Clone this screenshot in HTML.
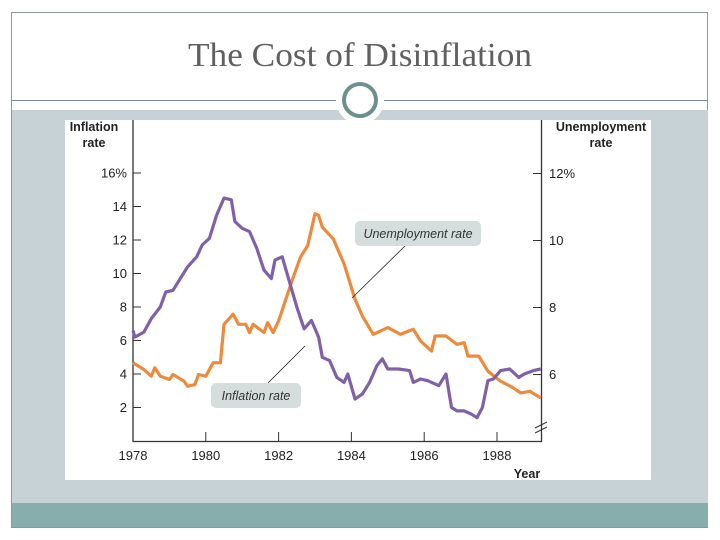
<!DOCTYPE html>
<html><head><meta charset="utf-8"><style>
html,body{margin:0;padding:0;background:#fff;}
svg{display:block;font-family:"Liberation Sans",sans-serif;}
</style></head><body>
<svg width="720" height="540" viewBox="0 0 720 540">
<rect x="11.5" y="12.5" width="696" height="515" fill="#fff" stroke="#8a9a9c"/>
<text x="360" y="66" text-anchor="middle" font-family="Liberation Serif,serif" font-size="34" fill="#606060" textLength="344" lengthAdjust="spacingAndGlyphs">The Cost of Disinflation</text>
<rect x="12" y="110" width="696" height="393" fill="#c7d2d7"/>
<rect x="12" y="503" width="696" height="24" fill="#88adad"/>
<line x1="12" y1="100.5" x2="708" y2="100.5" stroke="#7a8a8c"/>
<circle cx="360" cy="100" r="24" fill="#fff"/>
<circle cx="360" cy="100" r="16" fill="#fff" stroke="#6f8f8f" stroke-width="4"/>
<rect x="65" y="120" width="586" height="360" fill="#fff"/>
<g id="chart"></g>
</svg>
<script>
const ticksX=[1978,1980,1982,1984,1986,1988];
const ticksL=[2,4,6,8,10,12,14,16];
const ticksR=[6,8,10,12];
const infYears=[1978,1978.05,1978.3,1978.5,1978.75,1978.9,1979.1,1979.3,1979.5,1979.75,1979.9,1980.1,1980.3,1980.5,1980.7,1980.8,1981.0,1981.2,1981.4,1981.6,1981.8,1981.9,1982.1,1982.3,1982.5,1982.7,1982.9,1983.1,1983.2,1983.4,1983.6,1983.8,1983.9,1984.1,1984.3,1984.5,1984.7,1984.85,1985.0,1985.3,1985.6,1985.7,1985.9,1986.1,1986.4,1986.6,1986.75,1986.9,1987.1,1987.3,1987.45,1987.6,1987.75,1987.9,1988.1,1988.35,1988.6,1988.75,1989.0,1989.2];
const infVals=[6.6,6.2,6.5,7.3,8,8.9,9,9.7,10.4,11,11.7,12.1,13.5,14.5,14.4,13.1,12.7,12.5,11.5,10.2,9.7,10.8,11,9.5,8,6.7,7.2,6.2,5,4.8,3.8,3.5,4.0,2.5,2.8,3.5,4.5,4.9,4.3,4.3,4.2,3.5,3.7,3.6,3.3,4,2.0,1.8,1.8,1.6,1.4,2.0,3.6,3.7,4.2,4.3,3.8,4.0,4.2,4.3];
const unYears=[1978,1978.3,1978.5,1978.6,1978.75,1979,1979.1,1979.4,1979.5,1979.7,1979.8,1980,1980.2,1980.4,1980.5,1980.75,1980.9,1981.1,1981.2,1981.3,1981.6,1981.7,1981.85,1982,1982.2,1982.4,1982.6,1982.8,1983.0,1983.1,1983.2,1983.5,1983.8,1984.1,1984.3,1984.6,1985.0,1985.35,1985.7,1985.9,1986.2,1986.3,1986.6,1986.9,1987.1,1987.2,1987.5,1987.75,1988.1,1988.45,1988.65,1988.9,1989.2];
const unVals=[6.35,6.15,5.95,6.2,5.95,5.85,6.0,5.8,5.65,5.7,6.0,5.95,6.35,6.35,7.5,7.8,7.5,7.5,7.25,7.5,7.25,7.55,7.25,7.6,8.25,8.9,9.5,9.85,10.8,10.75,10.4,10.05,9.3,8.25,7.75,7.2,7.4,7.2,7.35,7.0,6.7,7.15,7.15,6.9,6.95,6.55,6.55,6.1,5.8,5.6,5.45,5.5,5.3];
const NS='http://www.w3.org/2000/svg';
const g=document.getElementById('chart');
const X=y=>133+(y-1978)*36.4;
const YL=v=>441-v*16.75;
const YR=u=>374.5-(u-6)*33.5;
function mk(t,a,p){const e=document.createElementNS(NS,t);for(const k in a)e.setAttribute(k,a[k]);(p||g).appendChild(e);return e;}
let e;
e=mk('path',{d:'M133,120V441.5H541.5V120',fill:'none',stroke:'#333','stroke-width':1.3});


e=mk('path',{d:'M535,428l12,-6M535,433l12,-6',stroke:'#333','stroke-width':1});


ticksX.forEach(t=>{
 e=mk('line',{x1:X(t),x2:X(t),y1:441,y2:432,stroke:'#333'});
 
 
 e=mk('text',{x:X(t),y:460,'text-anchor':'middle','font-size':13,fill:'#222'});e.textContent=t;
 
 
});
ticksL.forEach(t=>{
 e=mk('line',{x1:133,x2:141,y1:YL(t),y2:YL(t),stroke:'#333'});
 
 
 e=mk('text',{x:127,y:YL(t)+4.5,'text-anchor':'end','font-size':13,fill:'#222'});e.textContent=t===16?'16%':t;
 
 
});
ticksR.forEach(t=>{
 e=mk('line',{x1:533,x2:541,y1:YR(t),y2:YR(t),stroke:'#333'});
 
 
 e=mk('text',{x:549,y:YR(t)+4.5,'font-size':13,fill:'#222'});e.textContent=t===12?'12%':t;
 
 
});
function line(xs,vs,f,c,n){
 const d=xs.map((x,i)=>(i?'L':'M')+X(x).toFixed(1)+','+f(vs[i]).toFixed(1)).join('');
 e=mk('path',{d:d,fill:'none',stroke:c,'stroke-width':3.2,'stroke-linejoin':'round'});
 
 
}
line(unYears,unVals,YR,'#ee8a3c','unemployment-line');
line(infYears,infVals,YL,'#8060a8','inflation-line');
e=mk('line',{x1:352,y1:298,x2:405,y2:246,stroke:'#222','stroke-width':0.8});


e=mk('line',{x1:305,y1:346,x2:268,y2:383,stroke:'#222','stroke-width':0.8});


e=mk('rect',{x:355,y:221,width:126,height:25,rx:5,fill:'#d5dedd'});


e=mk('text',{x:418,y:238,'text-anchor':'middle','font-size':12.5,'font-style':'italic',fill:'#333'});e.textContent='Unemployment rate';


e=mk('rect',{x:211,y:383,width:90,height:25,rx:5,fill:'#d5dedd'});


e=mk('text',{x:256,y:400,'text-anchor':'middle','font-size':12.5,'font-style':'italic',fill:'#333'});e.textContent='Inflation rate';


[['Inflation',94,131,'left-axis-title'],['rate',94,147,'left-axis-title'],['Unemployment',601,131,'right-axis-title'],['rate',601,147,'right-axis-title'],['Year',527,478,'x-axis-title']].forEach(a=>{
 e=mk('text',{x:a[1],y:a[2],'text-anchor':'middle','font-size':12.5,'font-weight':'bold',fill:'#222'});e.textContent=a[0];
 
 
});
</script>
</body></html>
